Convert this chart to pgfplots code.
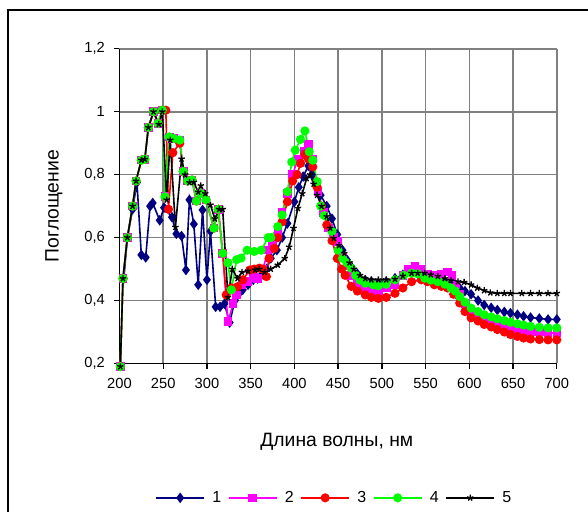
\documentclass[border=0pt]{standalone}
\usepackage{fontspec}
\setmainfont{Liberation Sans}
\usepackage{pgfplots}
\pgfplotsset{compat=1.18}

\definecolor{s1}{RGB}{0,0,128}
\definecolor{s2}{RGB}{255,0,255}
\definecolor{s3}{RGB}{255,0,0}
\definecolor{s4}{RGB}{0,255,0}
\definecolor{s5}{RGB}{0,0,0}
\definecolor{gridgray}{RGB}{128,128,128}

\begin{document}
\begin{tikzpicture}
\useasboundingbox (0pt,0pt) rectangle (441pt,-384pt);
\draw[line width=1.5pt] (6pt,-384pt) -- (6pt,-7.5pt) -- (441pt,-7.5pt);
\begin{axis}[
  at={(89.6pt,-272.6pt)}, anchor=south west,
  scale only axis, width=328pt, height=236pt,
  xmin=200, xmax=700, ymin=0.2, ymax=1.2,
  xtick={200,250,...,700}, ytick={0.2,0.4,...,1.2},
  axis x line*=bottom, axis y line*=left,
  axis line style={line width=1.3pt,-},
  grid=major, major grid style={gridgray,line width=1.2pt},
  tick style={black,line width=1pt}, tick align=outside, major tick length=4pt,
  /pgf/number format/use comma,
  /pgf/number format/assume math mode=true,
  tick label style={font=\fontsize{11}{13}\selectfont},
  yticklabel style={xshift=-3.5pt},
  xticklabel style={yshift=-3.5pt},
  xlabel={Длина волны, нм}, ylabel={Поглощение},
  label style={font=\fontsize{14.5}{16}\selectfont},
  xlabel style={at={(0.497,-0.264)},anchor=base},
  ylabel style={at={(-0.139,0.5)},anchor=base},
  legend columns=5,
  legend style={draw=none, at={(0.492,-0.427)}, anchor=center,
    font=\fontsize{12}{14}\selectfont, column sep=3.5pt,
    /tikz/every even column/.append style={column sep=3pt}},
  legend image code/.code={\draw[#1] (0pt,0pt) -- (36pt,0pt); \draw[#1,only marks] plot coordinates {(18pt,0pt)};},
  every axis plot/.append style={line width=1.2pt},
  clip=false,
]
\addplot[s1, mark=diamond*, mark size=3pt] coordinates {
(205,0.47) (209,0.60) (215,0.69) (220,0.775) (225,0.545) (230,0.537) (235,0.70) (238,0.71)
(246,0.655) (251,0.695) (260,0.665) (265,0.612) (271,0.605) (276,0.497) (280,0.72) (285,0.643)
(290,0.45) (295,0.688) (300,0.466) (304,0.62) (310,0.38) (315,0.38) (320,0.39) (326,0.33)
(332,0.40) (336,0.42) (341,0.434) (347,0.45) (353,0.466) (358,0.47) (362,0.48) (368,0.50)
(373,0.534) (380,0.56) (386,0.60) (392,0.645) (400,0.714) (405,0.76) (410,0.794) (416,0.828)
(420,0.80) (425,0.77) (430,0.735) (437,0.70) (443,0.66) (449,0.61) (455,0.56) (460,0.53)
(465,0.508) (472,0.485) (481,0.465) (488,0.46) (496,0.455) (505,0.46) (515,0.471) (524,0.482)
(534,0.492) (541,0.488) (549,0.481) (556,0.473) (564,0.466) (572,0.46) (583,0.455) (589,0.44)
(595,0.43) (602,0.42) (610,0.40) (617,0.386) (625,0.377) (632,0.37) (640,0.364) (647,0.36)
(655,0.355) (662,0.35) (670,0.346) (680,0.343) (690,0.34) (700,0.34)
};
\addlegendentry{1}
\addplot[s2, mark=square*, mark size=2.6pt] coordinates {
(201,0.19) (204,0.47) (209,0.60) (215,0.70) (219,0.78) (225,0.846) (229,0.849) (233,0.95)
(239,1.00) (244,0.963) (249,1.005) (252,0.73) (257,0.92) (262,0.915) (269,0.91) (273,0.81)
(278,0.78) (283,0.783) (288,0.716) (293,0.74) (299,0.72) (308,0.63) (313,0.69) (318,0.55)
(324,0.333) (330,0.39) (334,0.418) (340,0.45) (347,0.46) (353,0.473) (358,0.47) (364,0.50)
(370,0.56) (375,0.58) (381,0.62) (386,0.68) (392,0.74) (398,0.80) (404,0.85) (411,0.873)
(416,0.896) (421,0.85) (427,0.746) (433,0.68) (439,0.63) (445,0.60) (449,0.587) (455,0.54)
(460,0.51) (465,0.48) (472,0.455) (481,0.435) (488,0.43) (496,0.43) (505,0.44) (515,0.45)
(524,0.48) (530,0.50) (538,0.508) (545,0.50) (552,0.485) (560,0.48) (568,0.485) (575,0.49)
(580,0.48) (585,0.45) (589,0.42) (595,0.39) (602,0.365) (610,0.352) (617,0.342) (625,0.333)
(632,0.324) (640,0.318) (647,0.313) (655,0.308) (662,0.305) (670,0.302) (680,0.30) (690,0.297)
(700,0.297)
};
\addlegendentry{2}
\addplot[s3, mark=*, mark size=2.8pt] coordinates {
(201,0.19) (204,0.47) (209,0.60) (215,0.70) (219,0.78) (225,0.846) (229,0.849) (233,0.95)
(239,1.00) (244,0.963) (249,1.005) (253,1.005) (256,0.69) (261,0.87) (269,0.90) (273,0.81)
(278,0.78) (283,0.783) (288,0.716) (293,0.74) (299,0.72) (308,0.63) (313,0.69) (318,0.55)
(322,0.418) (328,0.44) (335,0.444) (341,0.466) (349,0.497) (354,0.50) (360,0.503) (364,0.50)
(368,0.476) (371,0.534) (377,0.566) (381,0.60) (386,0.65) (392,0.714) (398,0.78) (403,0.80)
(407,0.836) (412,0.865) (416,0.85) (421,0.825) (426,0.76) (431,0.70) (437,0.64) (443,0.59)
(449,0.534) (454,0.50) (458,0.48) (465,0.445) (472,0.43) (481,0.418) (488,0.41) (496,0.407)
(505,0.41) (515,0.423) (524,0.44) (534,0.46) (545,0.466) (552,0.46) (560,0.45) (568,0.445)
(575,0.44) (582,0.42) (589,0.392) (595,0.365) (602,0.345) (610,0.335) (617,0.324) (625,0.316)
(632,0.308) (640,0.30) (647,0.292) (655,0.286) (662,0.281) (670,0.278) (680,0.276) (690,0.275)
(700,0.275)
};
\addlegendentry{3}
\addplot[s4, mark=*, mark size=2.8pt] coordinates {
(201,0.19) (204,0.47) (209,0.60) (215,0.70) (219,0.78) (225,0.846) (229,0.849) (233,0.95)
(239,1.00) (244,0.963) (249,1.005) (252,0.73) (257,0.92) (262,0.915) (269,0.91) (273,0.81)
(278,0.78) (283,0.783) (288,0.716) (293,0.74) (299,0.72) (308,0.63) (313,0.69) (318,0.55)
(324,0.52) (328,0.434) (334,0.53) (339,0.535) (346,0.56) (354,0.556) (362,0.56) (370,0.60)
(373,0.60) (381,0.635) (386,0.672) (392,0.746) (397,0.84) (401,0.878) (407,0.912) (412,0.939)
(417,0.873) (421,0.846) (426,0.778) (430,0.70) (434,0.67) (443,0.62) (450,0.56) (455,0.534)
(460,0.52) (465,0.503) (470,0.48) (475,0.465) (481,0.455) (490,0.45) (496,0.447) (505,0.452)
(515,0.466) (525,0.48) (534,0.487) (541,0.485) (549,0.471) (556,0.465) (564,0.46) (572,0.452)
(579,0.44) (584,0.43) (589,0.413) (595,0.395) (602,0.376) (610,0.365) (617,0.355) (625,0.348)
(632,0.342) (640,0.336) (647,0.331) (655,0.326) (662,0.322) (670,0.318) (680,0.315) (690,0.313)
(700,0.313)
};
\addlegendentry{4}
\addplot[s5, mark=star, mark size=2.5pt, mark options={line width=1pt}] coordinates {
(201,0.19) (204,0.47) (209,0.60) (215,0.70) (219,0.78) (225,0.846) (229,0.849) (233,0.95)
(239,1.00) (245,0.96) (249,1.00) (254,0.72) (258,0.91) (264,0.633) (271,0.85) (275,0.80)
(280,0.775) (285,0.776) (290,0.745) (293,0.765) (298,0.74) (304,0.704) (309,0.66) (314,0.69)
(318,0.69) (324,0.41) (329,0.50) (335,0.47) (340,0.49) (347,0.494) (355,0.497) (360,0.50)
(366,0.49) (373,0.50) (381,0.513) (389,0.534) (394,0.57) (399,0.63) (404,0.693) (409,0.74)
(414,0.788) (418,0.80) (422,0.77) (426,0.735) (431,0.70) (437,0.667) (441,0.63) (445,0.598)
(451,0.575) (457,0.55) (463,0.52) (468,0.50) (475,0.48) (481,0.47) (488,0.466) (496,0.466)
(505,0.466) (515,0.468) (524,0.478) (534,0.487) (541,0.487) (549,0.487) (556,0.482) (564,0.477)
(572,0.47) (579,0.464) (587,0.46) (594,0.458) (602,0.45) (609,0.44) (617,0.432) (624,0.425)
(632,0.423) (640,0.423) (647,0.423) (660,0.423) (670,0.423) (680,0.423) (690,0.423) (700,0.423)
};
\addlegendentry{5}
\end{axis}
\end{tikzpicture}
\end{document}
